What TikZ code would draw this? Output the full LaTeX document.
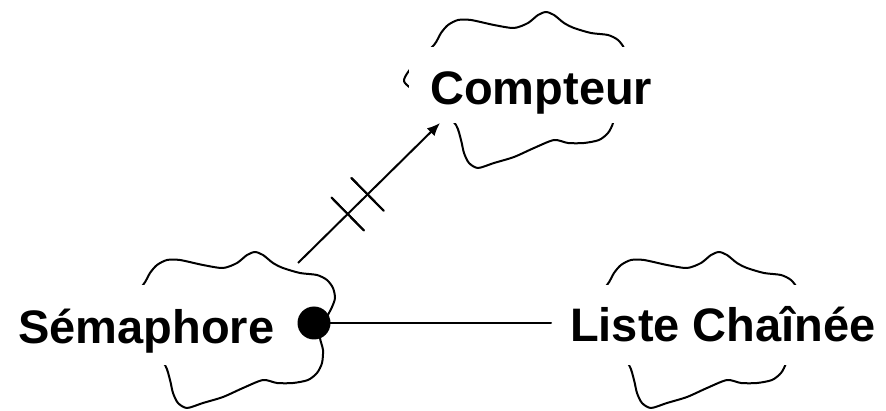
\documentclass[tikz,border=0pt]{standalone}
\usepackage{fontspec}
\setmainfont{Liberation Sans}
\usetikzlibrary{arrows.meta,decorations.markings}

\tikzset{
  outline/.style={line width=2pt, line join=round, line cap=round},
  % Booch class icon: an irregular cloud outline around the origin
  classcloud/.pic={
    \draw[outline] plot[smooth cycle, tension=0.45] coordinates {
      (-82,-40) (-75,-52) (-68,-60) (-58,-65) (-45,-65) (-22,-60) (-2,-57)
      (12,-62) (22,-70) (30,-73) (38,-70) (48,-62) (58,-57) (75,-52)
      (92,-50) (102,-45) (108,-37) (110,-27) (107,-18) (102,-8) (97,5)
      (95,13) (98,25) (97,38) (92,48) (83,55) (68,58) (52,58) (38,55)
      (18,63) (-2,72) (-22,78) (-38,83) (-47,78) (-52,68) (-55,55)
      (-60,40) (-75,25) (-95,10) (-112,-4) (-100,-23)};
  },
  classlabel/.style={fill=white, inner ysep=0pt, anchor=base west,
    font=\fontsize{47}{56}\selectfont\bfseries},
  hashed/.style={decoration={markings,
      mark=at position #1 with {\draw[outline, arrows=-] (0pt,-23pt) -- (0pt,23pt);}},
    postaction=decorate},
}

\begin{document}
\begin{tikzpicture}[x=1pt, y=-1pt]
  \useasboundingbox[fill=white] (0,0) rectangle (886,411);

  % class clouds
  \pic at (516,85)  {classcloud};
  \pic at (225,325) {classcloud};
  \pic at (689,325) {classcloud};

  % class names on white boxes
  \node[classlabel, inner xsep=21pt, text height=58pt, text depth=18pt]
    (compteur) at (409,105) {Compteur};
  \node[classlabel, inner xsep=18pt, text height=59pt, text depth=21pt]
    (semaphore) at (0,344) {Sémaphore};
  \node[classlabel, inner xsep=19pt, text height=57pt, text depth=23pt]
    (liste) at (551,342) {Liste Chaînée};

  % has-relationship: Sémaphore contains Liste Chaînée
  \node[circle, fill=black, inner sep=0pt, minimum size=33pt] (dot) at (314,323) {};
  \draw[outline] (dot.center) -- (dot -| liste.west);

  % using-relationship towards Compteur, with cardinality marks
  \coordinate (usefrom) at (298,263);
  \coordinate (useto) at (440,123);
  \draw[outline, line cap=butt, -{Latex[length=13pt, width=11pt]},
        hashed/.list={0.35,0.49}] (usefrom) -- (useto);
\end{tikzpicture}
\end{document}
